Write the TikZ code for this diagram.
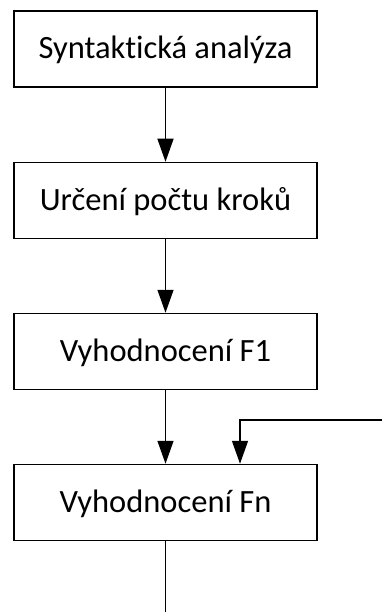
\documentclass[tikz,border=0pt]{standalone}
\usepackage{fontspec}
\setmainfont[Ligatures=CommonOff]{Carlito}
\usetikzlibrary{arrows.meta}
\tikzset{
  krok/.style={draw, line width=1.5pt, minimum width=303pt, minimum height=76pt,
    inner sep=0pt, text height=20pt, text depth=0pt,
    font=\fontsize{32.5}{36}\selectfont},
  sip/.style={-{Triangle[width=16pt,length=23pt]}, line width=1.4pt},
  car/.style={line width=1.4pt}
}
\begin{document}
\begin{tikzpicture}[x=1pt,y=-1pt]
\useasboundingbox (0,0) rectangle (382,612);
\node[krok] (syn) at (165.5,49) {Syntaktická analýza};
\node[krok] (urc) at (165.5,200.5) {Určení počtu kroků};
\node[krok] (f1) at (165.5,351.5) {Vyhodnocení F1};
\node[krok] (fn) at (165.5,502.5) {Vyhodnocení Fn};
\coordinate (konec) at (165.5,612);
\coordinate (zpet) at (382,420);

\foreach \a/\b in {syn/urc, urc/f1, f1/fn}{
	\draw[sip] (\a) -- (\b);
}
\draw[car] (fn) -- (konec);
\draw[sip] (zpet) -| ([xshift=74.5pt]fn.north);
\end{tikzpicture}
\end{document}
